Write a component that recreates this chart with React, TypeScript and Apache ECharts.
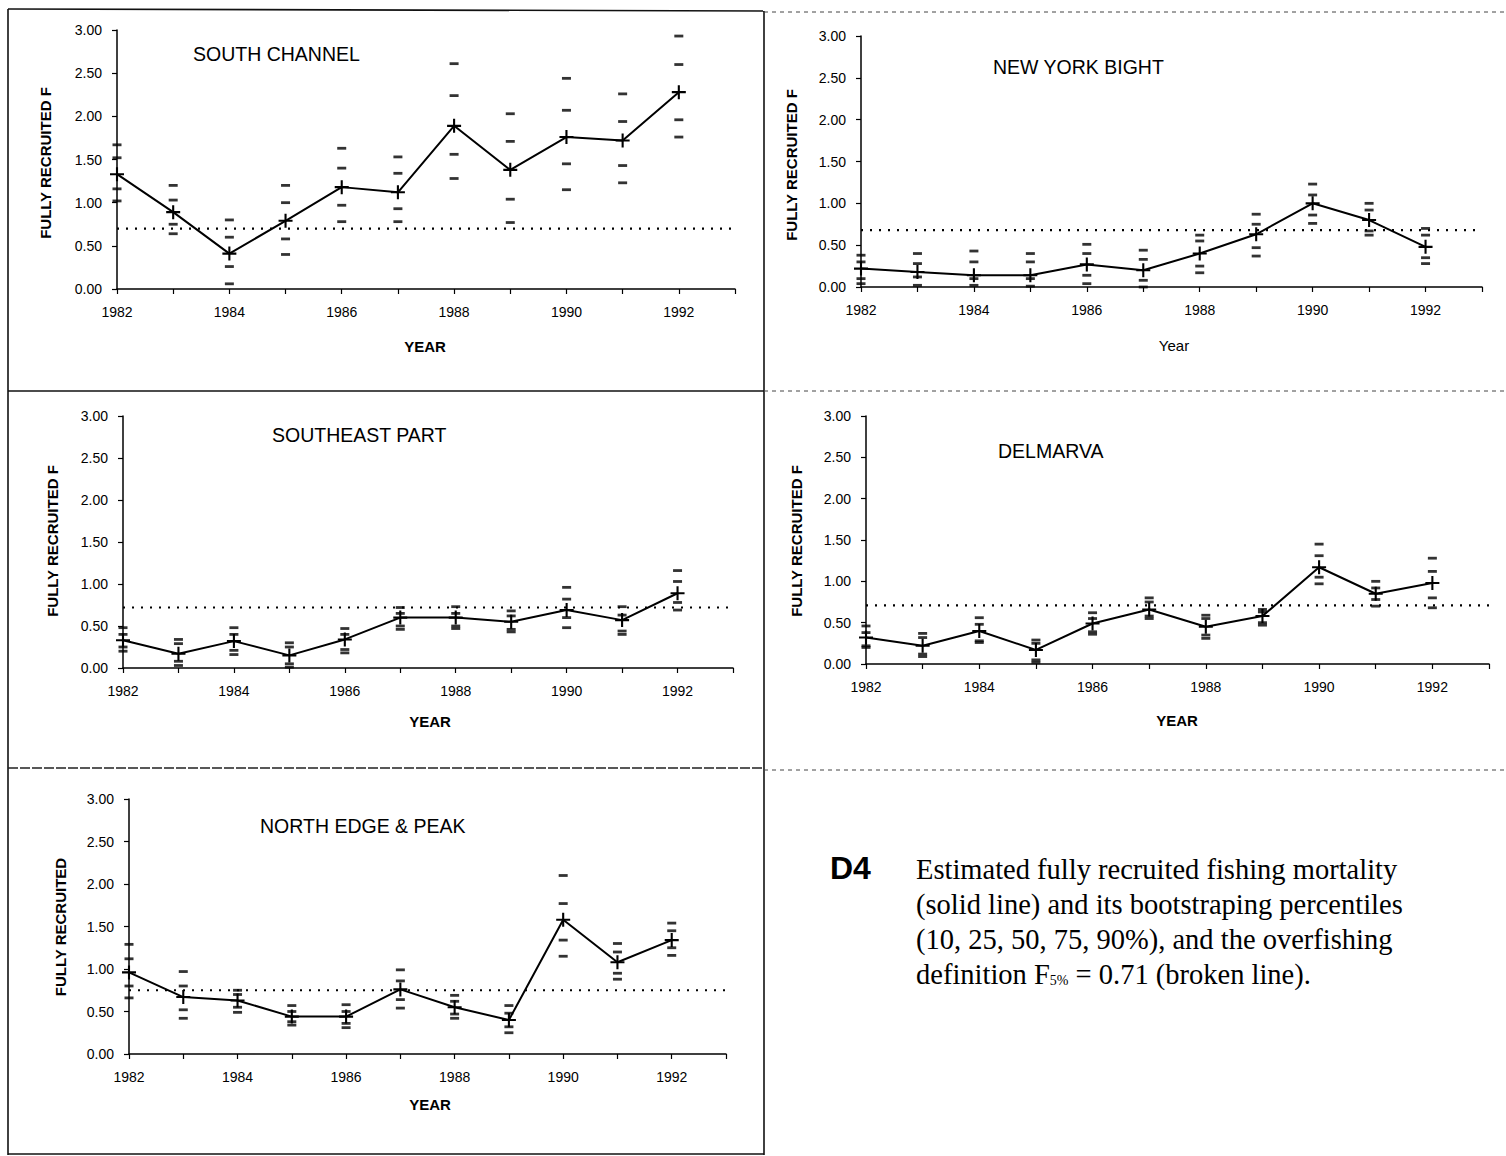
import React, { useEffect, useRef } from "react";
import * as echarts from "echarts";

// ---------------- DATA ----------------
const YEARS = [1982, 1983, 1984, 1985, 1986, 1987, 1988, 1989, 1990, 1991, 1992];
const Y_TICKS = [0, 0.5, 1, 1.5, 2, 2.5, 3];
const X_LABEL_YEARS = [1982, 1984, 1986, 1988, 1990, 1992];

const PANEL_TITLES = ["SOUTH CHANNEL", "NEW YORK BIGHT", "SOUTHEAST PART", "DELMARVA", "NORTH EDGE & PEAK"];
const Y_TITLES = ["FULLY RECRUITED F", "FULLY RECRUITED F", "FULLY RECRUITED F", "FULLY RECRUITED F", "FULLY RECRUITED"];
const X_TITLES = ["YEAR", "Year", "YEAR", "YEAR", "YEAR"];

// overfishing definition level as drawn (broken line) in each panel
const F_LINE_LEVELS = [0.7, 0.68, 0.72, 0.71, 0.75];

// South Channel
const SC_EST = [1.33, 0.89, 0.41, 0.79, 1.18, 1.12, 1.89, 1.38, 1.76, 1.72, 2.28];
const SC_P90 = [1.67, 1.2, 0.8, 1.2, 1.63, 1.53, 2.61, 2.03, 2.44, 2.26, 2.93];
const SC_P75 = [1.52, 1.03, 0.6, 1.0, 1.4, 1.34, 2.24, 1.71, 2.07, 1.94, 2.6];
const SC_P25 = [1.16, 0.75, 0.26, 0.58, 0.97, 0.93, 1.56, 1.04, 1.45, 1.43, 1.96];
const SC_P10 = [1.02, 0.64, 0.06, 0.4, 0.78, 0.78, 1.28, 0.77, 1.15, 1.23, 1.76];

// New York Bight
const NY_EST = [0.22, 0.18, 0.14, 0.14, 0.27, 0.2, 0.4, 0.63, 1.0, 0.8, 0.48];
const NY_P90 = [0.38, 0.4, 0.43, 0.4, 0.51, 0.44, 0.62, 0.87, 1.23, 1.0, 0.7];
const NY_P75 = [0.3, 0.28, 0.3, 0.3, 0.4, 0.33, 0.55, 0.75, 1.1, 0.92, 0.62];
const NY_P25 = [0.1, 0.12, 0.1, 0.1, 0.14, 0.08, 0.25, 0.47, 0.86, 0.67, 0.35];
const NY_P10 = [0.04, 0.02, 0.02, 0.01, 0.04, 0.0, 0.17, 0.37, 0.76, 0.62, 0.28];

// Southeast Part
const SE_EST = [0.33, 0.17, 0.32, 0.15, 0.34, 0.6, 0.6, 0.55, 0.69, 0.57, 0.89];
const SE_P90 = [0.48, 0.34, 0.48, 0.3, 0.47, 0.72, 0.73, 0.68, 0.96, 0.73, 1.16];
const SE_P75 = [0.4, 0.29, 0.4, 0.25, 0.4, 0.65, 0.65, 0.62, 0.82, 0.63, 1.03];
const SE_P25 = [0.25, 0.08, 0.21, 0.05, 0.22, 0.5, 0.5, 0.46, 0.6, 0.44, 0.78];
const SE_P10 = [0.2, 0.03, 0.16, 0.01, 0.18, 0.46, 0.47, 0.43, 0.48, 0.4, 0.69];

// Delmarva
const DE_EST = [0.32, 0.22, 0.4, 0.17, 0.49, 0.66, 0.45, 0.58, 1.17, 0.85, 0.98];
const DE_P90 = [0.46, 0.37, 0.56, 0.29, 0.62, 0.8, 0.59, 0.66, 1.45, 1.0, 1.28];
const DE_P75 = [0.38, 0.32, 0.48, 0.25, 0.55, 0.75, 0.55, 0.63, 1.31, 0.92, 1.12];
const DE_P25 = [0.22, 0.12, 0.28, 0.05, 0.39, 0.58, 0.35, 0.5, 1.05, 0.78, 0.8];
const DE_P10 = [0.2, 0.09, 0.26, 0.02, 0.36, 0.55, 0.31, 0.47, 0.97, 0.7, 0.68];

// North Edge & Peak
const NE_EST = [0.96, 0.67, 0.63, 0.44, 0.44, 0.76, 0.55, 0.4, 1.58, 1.08, 1.34];
const NE_P90 = [1.29, 0.97, 0.75, 0.57, 0.58, 0.99, 0.69, 0.57, 2.1, 1.3, 1.54];
const NE_P75 = [1.12, 0.8, 0.7, 0.5, 0.5, 0.86, 0.62, 0.48, 1.77, 1.2, 1.45];
const NE_P25 = [0.8, 0.52, 0.55, 0.38, 0.36, 0.64, 0.47, 0.32, 1.34, 0.95, 1.25];
const NE_P10 = [0.66, 0.42, 0.49, 0.34, 0.31, 0.54, 0.42, 0.25, 1.15, 0.88, 1.16];

const CAPTION_LABEL = "D4";
const CAPTION_LINES = [
  "Estimated fully recruited fishing mortality",
  "(solid line) and its bootstraping percentiles",
  "(10, 25, 50, 75, 90%), and the overfishing",
  "definition F{s|5%} = 0.71 (broken line).",
];

// ---------------- LAYOUT ----------------
const ESTS = [SC_EST, NY_EST, SE_EST, DE_EST, NE_EST];
const PCTS = [
  [SC_P10, SC_P25, SC_P75, SC_P90],
  [NY_P10, NY_P25, NY_P75, NY_P90],
  [SE_P10, SE_P25, SE_P75, SE_P90],
  [DE_P10, DE_P25, DE_P75, DE_P90],
  [NE_P10, NE_P25, NE_P75, NE_P90],
];

// plot boxes: x of 1982, x of 1993, y of 3.00, y of 0.00 (page pixels)
const BOXES = [
  { x0: 117, x1: 735, yT: 30, yB: 289 },
  { x0: 861, x1: 1482, yT: 36, yB: 287 },
  { x0: 123, x1: 733, yT: 416, yB: 668 },
  { x0: 866, x1: 1489, yT: 416, yB: 664 },
  { x0: 129, x1: 726, yT: 799, yB: 1054 },
];
const Y_TITLE_POS = [
  [45, 163],
  [791, 165],
  [52, 541],
  [796, 541],
  [60, 927],
];
const PANEL_TITLE_POS = [
  [193, 54],
  [993, 67],
  [272, 435],
  [998, 451],
  [260, 826],
];
const X_TITLE_POS = [
  [425, 346],
  [1174, 345],
  [430, 721],
  [1177, 720],
  [430, 1104],
];

const FONT = '"Liberation Sans", Arial, sans-serif';
const SERIF = '"Liberation Serif", "Times New Roman", serif';
const PLUS = "path://M4.25,0h1.5v10h-1.5z M0,4.25h10v1.5h-10z";

function buildOption() {
  const grid: any[] = [];
  const xAxis: any[] = [];
  const yAxis: any[] = [];
  const series: any[] = [];
  BOXES.forEach((b, i) => {
    grid.push({
      left: b.x0,
      top: b.yT,
      width: b.x1 - b.x0,
      height: b.yB - b.yT,
      containLabel: false,
      outerBoundsMode: "none",
    });
    xAxis.push({
      gridIndex: i,
      type: "value",
      min: 1982,
      max: 1993,
      interval: 1,
      axisLine: { show: true, onZero: false, lineStyle: { color: "#000", width: 1.5 } },
      axisTick: { show: true, length: 5, lineStyle: { color: "#000", width: 1.2 } },
      splitLine: { show: false },
      axisLabel: {
        color: "#000",
        fontSize: 14,
        fontFamily: FONT,
        margin: 16,
        showMaxLabel: true,
        formatter: (v: number) => (X_LABEL_YEARS.indexOf(Math.round(v)) >= 0 ? String(Math.round(v)) : ""),
      },
    });
    yAxis.push({
      gridIndex: i,
      type: "value",
      min: 0,
      max: 3,
      interval: 0.5,
      axisLine: { show: true, onZero: false, lineStyle: { color: "#000", width: 1.5 } },
      axisTick: { show: true, length: 5, lineStyle: { color: "#000", width: 1.2 } },
      splitLine: { show: false },
      axisLabel: {
        color: "#000",
        fontSize: 14,
        fontFamily: FONT,
        margin: 15,
        formatter: (v: number) => (Y_TICKS.indexOf(v) >= 0 ? v.toFixed(2) : ""),
      },
    });
    series.push({
      type: "line",
      xAxisIndex: i,
      yAxisIndex: i,
      data: [
        [1982, F_LINE_LEVELS[i]],
        [1993, F_LINE_LEVELS[i]],
      ],
      symbol: "none",
      silent: true,
      lineStyle: { color: "#000", width: 2.2, type: [2, 7] },
      z: 2,
    });
    const marks: number[][] = [];
    PCTS[i].forEach((arr) => arr.forEach((v, j) => marks.push([YEARS[j], v])));
    series.push({
      type: "scatter",
      xAxisIndex: i,
      yAxisIndex: i,
      data: marks,
      symbol: "rect",
      symbolSize: [9, 2.8],
      itemStyle: { color: "#000" },
      silent: true,
      z: 3,
    });
    series.push({
      type: "line",
      xAxisIndex: i,
      yAxisIndex: i,
      data: YEARS.map((y, j) => [y, ESTS[i][j]]),
      symbol: PLUS,
      symbolSize: 14,
      showAllSymbol: true,
      itemStyle: { color: "#000" },
      lineStyle: { color: "#000", width: 2 },
      silent: true,
      z: 4,
    });
  });

  const graphic: any[] = [];
  const solid = { stroke: "#111", lineWidth: 1.6 };
  const faint = { stroke: "#444", lineWidth: 1, lineDash: [4, 4] };
  const line = (x1: number, y1: number, x2: number, y2: number, style: any) => ({
    type: "line",
    shape: { x1, y1, x2, y2 },
    style,
    silent: true,
  });
  // borders
  graphic.push(line(8, 9, 8, 1155, solid));
  graphic.push(line(8, 9, 764, 11, solid));
  graphic.push(line(764, 11, 764, 1155, solid));
  graphic.push(line(8, 391, 764, 391, solid));
  graphic.push(line(8, 768, 764, 768, { stroke: "#222", lineWidth: 1.4, lineDash: [10, 2] }));
  graphic.push(line(8, 1154, 764, 1154, solid));
  graphic.push(line(764, 12, 1506, 12, faint));
  graphic.push(line(764, 391, 1506, 391, faint));
  graphic.push(line(764, 770, 1506, 770, faint));

  BOXES.forEach((b, i) => {
    graphic.push({
      type: "text",
      x: Y_TITLE_POS[i][0],
      y: Y_TITLE_POS[i][1],
      rotation: Math.PI / 2,
      style: {
        text: Y_TITLES[i],
        font: `bold 15px ${FONT}`,
        fill: "#000",
        textAlign: "center",
        textVerticalAlign: "middle",
      },
      silent: true,
    });
    graphic.push({
      type: "text",
      x: PANEL_TITLE_POS[i][0],
      y: PANEL_TITLE_POS[i][1],
      style: {
        text: PANEL_TITLES[i],
        font: `19.5px ${FONT}`,
        fill: "#000",
        textAlign: "left",
        textVerticalAlign: "middle",
      },
      silent: true,
    });
    graphic.push({
      type: "text",
      x: X_TITLE_POS[i][0],
      y: X_TITLE_POS[i][1],
      style: {
        text: X_TITLES[i],
        font: X_TITLES[i] === "YEAR" ? `bold 15px ${FONT}` : `15px ${FONT}`,
        fill: "#000",
        textAlign: "center",
        textVerticalAlign: "middle",
      },
      silent: true,
    });
  });

  graphic.push({
    type: "text",
    x: 830,
    y: 868,
    style: {
      text: CAPTION_LABEL,
      font: `bold 32px ${FONT}`,
      fill: "#000",
      textAlign: "left",
      textVerticalAlign: "middle",
    },
    silent: true,
  });
  CAPTION_LINES.forEach((t, k) => {
    graphic.push({
      type: "text",
      x: 916,
      y: 869 + k * 35,
      style: {
        text: t,
        font: `28.5px ${SERIF}`,
        fill: "#000",
        textAlign: "left",
        textVerticalAlign: "middle",
        rich: {
          s: {
            fontSize: 14,
            fontFamily: SERIF,
            fill: "#000",
            padding: [13, 0, 0, 0],
          },
        },
      },
      silent: true,
    });
  });

  return {
    animation: false,
    backgroundColor: "#fff",
    grid,
    xAxis,
    yAxis,
    series,
    graphic,
  };
}

export default function App() {
  const ref = useRef<HTMLDivElement>(null);
  useEffect(() => {
    if (!ref.current) return;
    const chart = echarts.init(ref.current, undefined, { renderer: "svg" });
    chart.setOption(buildOption() as any);
    return () => chart.dispose();
  }, []);
  return (
    <div
      ref={ref}
      style={{ position: "absolute", left: 0, top: 0, width: 1506, height: 1156, background: "#fff" }}
    />
  );
}
